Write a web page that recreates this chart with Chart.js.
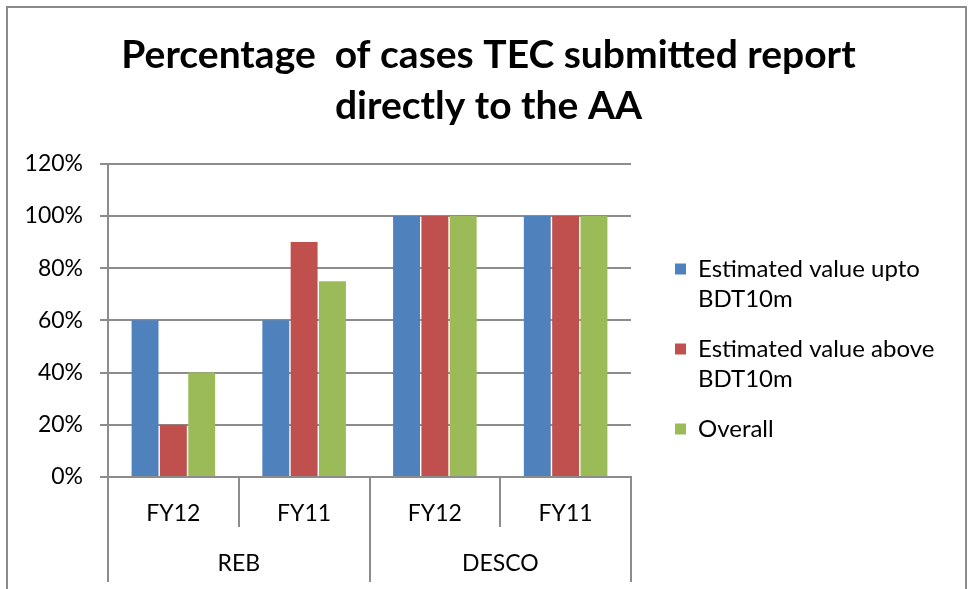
<!DOCTYPE html>
<html>
<head>
<meta charset="utf-8">
<script src="https://cdn.jsdelivr.net/npm/chart.js@4"></script>
<style>
html,body{margin:0;padding:0;background:#fff;}
#wrap{position:relative;width:969px;height:589px;}
</style>
</head>
<body>
<div id="wrap"><canvas id="c" width="969" height="589"></canvas></div>
<script>
const titleLines = ['Percentage  of cases TEC submitted report', 'directly to the AA'];
const categories = ['FY12', 'FY11', 'FY12', 'FY11'];
const groups = ['REB', 'DESCO'];
const seriesNames = [['Estimated value upto', 'BDT10m'], ['Estimated value above', 'BDT10m'], ['Overall']];
const upto10m = [60, 60, 100, 100];
const above10m = [20, 90, 100, 100];
const overall = [40, 75, 100, 100];
const yTicks = [0, 20, 40, 60, 80, 100, 120];

const FONT = 'Lato, "Open Sans", sans-serif';
const GRID = '#8c8c8c';
const PLOT_RIGHT = 631;
const LEGEND_GAP = 24;
const LEGEND_DY = 56;

const framePlugin = {
  id: 'frame',
  beforeUpdate(chart) {
    const lg = chart.legend;
    if (lg && !lg._patched) {
      const orig = lg.fit.bind(lg);
      lg.fit = function () {
        orig();
        this.width = chart.width - PLOT_RIGHT;
      };
      lg._patched = true;
    }
  },
  afterLayout(chart) {
    const lg = chart.legend;
    if (lg) {
      lg.left += LEGEND_GAP; lg.right += LEGEND_GAP;
      lg.top += LEGEND_DY; lg.bottom += LEGEND_DY;
    }
  },
  afterDraw(chart) {
    const ctx = chart.ctx;
    ctx.save();
    ctx.strokeStyle = '#8a8a8a';
    ctx.lineWidth = 2;
    ctx.beginPath();
    ctx.moveTo(7, chart.height);
    ctx.lineTo(7, 7);
    ctx.lineTo(966, 7);
    ctx.lineTo(966, chart.height);
    ctx.stroke();
    ctx.restore();
  }
};

new Chart(document.getElementById('c'), {
  type: 'bar',
  data: {
    labels: categories,
    datasets: [
      { label: seriesNames[0], data: upto10m, backgroundColor: '#4F81BD' },
      { label: seriesNames[1], data: above10m, backgroundColor: '#C0504D' },
      { label: seriesNames[2], data: overall, backgroundColor: '#9BBB59' }
    ]
  },
  options: {
    responsive: false,
    animation: false,
    layout: { padding: { left: 8, right: 0, top: 10, bottom: 7 } },
    datasets: { bar: { categoryPercentage: 0.65, barPercentage: 0.95, borderWidth: 0 } },
    plugins: {
      title: {
        display: true,
        text: titleLines,
        color: '#000',
        font: { family: FONT, size: 39, weight: 'bold', lineHeight: 1.33 },
        padding: { top: 19, bottom: 31 }
      },
      legend: {
        position: 'right',
        labels: {
          color: '#000',
          font: { family: FONT, size: 24, lineHeight: 1.25 },
          boxWidth: 11,
          boxHeight: 11,
          padding: 20,
          generateLabels(chart) {
            return chart.data.datasets.map((ds, i) => ({
              text: ds.label,
              fillStyle: ds.backgroundColor,
              strokeStyle: ds.backgroundColor,
              lineWidth: 0,
              hidden: false,
              datasetIndex: i
            }));
          }
        }
      },
      tooltip: { enabled: false }
    },
    scales: {
      y: {
        min: 0,
        max: 120,
        afterBuildTicks(scale) { scale.ticks = yTicks.map(v => ({ value: v })); },
        afterFit(scale) { scale.width = 100; },
        ticks: {
          color: '#000',
          font: { family: FONT, size: 23 },
          padding: 17,
          callback: v => v + '%'
        },
        grid: { color: GRID, lineWidth: 2, tickLength: 8 },
        border: { display: true, color: GRID, width: 2 }
      },
      x: {
        position: 'bottom',
        grid: { offset: true, drawOnChartArea: false, color: GRID, lineWidth: 2, tickLength: 50 },
        border: { display: true, color: GRID, width: 2 },
        ticks: { color: '#000', font: { family: FONT, size: 23 }, padding: -27, maxRotation: 0 },
        afterFit(scale) { scale.height = 50; }
      },
      x2: {
        type: 'category',
        position: 'bottom',
        labels: groups,
        offset: true,
        grid: { offset: true, drawOnChartArea: false, color: GRID, lineWidth: 2, tickLength: 55 },
        border: { display: false },
        ticks: { color: '#000', font: { family: FONT, size: 23 }, padding: -32, maxRotation: 0 },
        afterFit(scale) { scale.height = 55; }
      }
    }
  },
  plugins: [framePlugin]
});
</script>
</body>
</html>
